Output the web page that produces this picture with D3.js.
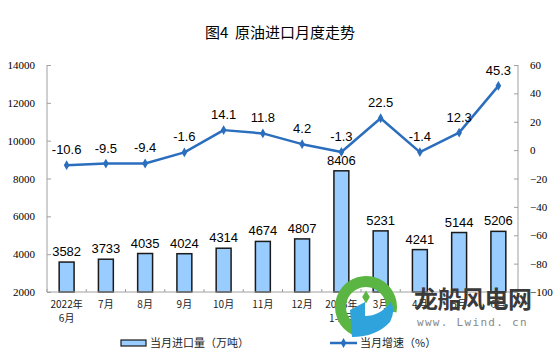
<!DOCTYPE html>
<html>
<head>
<meta charset="utf-8">
<script src="https://cdn.jsdelivr.net/npm/d3@7"></script>
<style>
	body { margin: 0; background: #fff; }
</style>
</head>
<body>
<div class="chart"></div>
<script>
var categories = ['2022年|6月', '7月', '8月', '9月', '10月', '11月', '12月', '2023年|1-2月', '3月', '4月', '5月', '6月'];
var imports = [3582, 3733, 4035, 4024, 4314, 4674, 4807, 8406, 5231, 4241, 5144, 5206];
var growth = [-10.6, -9.5, -9.4, -1.6, 14.1, 11.8, 4.2, -1.3, 22.5, -1.4, 12.3, 45.3];
var leftTicks = [2000, 4000, 6000, 8000, 10000, 12000, 14000];
var rightTicks = [-100, -80, -60, -40, -20, 0, 20, 40, 60];

var barFill = '#99ccff',
	barStroke = '#1a1a1a',
	lineColor = '#2a6ebd',
	axisColor = '#a0a0a0',
	textColor = '#000',
	cjk = '"Noto Sans CJK SC", sans-serif';

var W = 560, H = 361;
var plot = {left: 47, right: 518, top: 65, bottom: 292};

var svg = d3.select('.chart').append('svg')
	.attr('width', W)
	.attr('height', H)
	.attr('font-family', 'Liberation Sans, Arial, sans-serif');

var x = d3.scaleBand().domain(categories).range([plot.left, plot.right]).paddingInner(0.62).paddingOuter(0.31);
var yL = d3.scaleLinear().domain([2000, 14000]).range([plot.bottom, plot.top]);
var yR = d3.scaleLinear().domain([-100, 60]).range([plot.bottom, plot.top]);

// Title
svg.append('text')
	.attr('x', 280).attr('y', 38)
	.attr('text-anchor', 'middle')
	.attr('font-family', cjk)
	.attr('font-size', '15px')
	.attr('fill', textColor)
	.style('white-space', 'pre')
	.text('图4  原油进口月度走势');

// Bars
svg.selectAll('.bar').data(imports).enter().append('rect')
	.attr('class', 'bar')
	.attr('x', function(d, i) { return x(categories[i]); })
	.attr('y', function(d) { return yL(d); })
	.attr('width', x.bandwidth())
	.attr('height', function(d) { return yL(2000) - yL(d); })
	.attr('fill', barFill)
	.attr('stroke', barStroke)
	.attr('stroke-width', 1.5);

svg.selectAll('.bar-label').data(imports).enter().append('text')
	.attr('x', function(d, i) { return x(categories[i]) + x.bandwidth() / 2; })
	.attr('y', function(d) { return yL(d) - 6; })
	.attr('text-anchor', 'middle')
	.attr('font-size', '13px')
	.attr('fill', textColor)
	.text(function(d) { return d; });

// Axes
var axisL = svg.append('g')
	.attr('transform', 'translate(' + plot.left + ',0)')
	.call(d3.axisLeft(yL).tickValues(leftTicks).tickSize(-4).tickPadding(12).tickFormat(d3.format('d')));
var axisR = svg.append('g')
	.attr('transform', 'translate(' + plot.right + ',0)')
	.call(d3.axisRight(yR).tickValues(rightTicks).tickSize(-4).tickPadding(12));
var bottomTicks = d3.range(categories.length + 1).map(function(i) {
	return plot.left + i * (plot.right - plot.left) / categories.length;
});
svg.append('line')
	.attr('x1', plot.left).attr('x2', plot.right)
	.attr('y1', plot.bottom).attr('y2', plot.bottom)
	.attr('stroke', axisColor);
svg.selectAll('.xtick').data(bottomTicks).enter().append('line')
	.attr('x1', function(d) { return d; }).attr('x2', function(d) { return d; })
	.attr('y1', plot.bottom).attr('y2', plot.bottom - 3)
	.attr('stroke', axisColor);

[axisL, axisR].forEach(function(a) {
	a.select('.domain').attr('stroke', axisColor).attr('d', function() {
		return 'M0,' + plot.top + 'V' + plot.bottom;
	});
	a.selectAll('.tick line').attr('stroke', axisColor);
	a.selectAll('.tick text')
		.attr('font-family', 'Liberation Serif, Times New Roman, serif')
		.attr('font-size', '11px')
		.attr('fill', textColor);
});
axisL.selectAll('.tick text').attr('x', -12);

// Category labels
var xLabels = svg.selectAll('.xlabel').data(categories).enter().append('text')
	.attr('x', function(d) { return x(d) + x.bandwidth() / 2; })
	.attr('y', 308)
	.attr('text-anchor', 'middle')
	.attr('font-family', cjk)
	.attr('font-size', '10px')
	.attr('fill', '#222');
xLabels.each(function(d) {
	var parts = d.split('|');
	var t = d3.select(this);
	parts.forEach(function(p, j) {
		t.append('tspan')
			.attr('x', t.attr('x'))
			.attr('dy', j === 0 ? 0 : 14)
			.text(p);
	});
});

// Growth line
var line = d3.line()
	.x(function(d, i) { return x(categories[i]) + x.bandwidth() / 2; })
	.y(function(d) { return yR(d); });
svg.append('path')
	.datum(growth)
	.attr('fill', 'none')
	.attr('stroke', lineColor)
	.attr('stroke-width', 2.5)
	.attr('stroke-linejoin', 'round')
	.attr('d', line);
svg.selectAll('.marker').data(growth).enter().append('path')
	.attr('transform', function(d, i) {
		return 'translate(' + (x(categories[i]) + x.bandwidth() / 2) + ',' + yR(d) + ')';
	})
	.attr('d', d3.symbol(d3.symbolDiamond, 28))
	.attr('fill', lineColor);
svg.selectAll('.line-label').data(growth).enter().append('text')
	.attr('x', function(d, i) { return x(categories[i]) + x.bandwidth() / 2; })
	.attr('y', function(d) { return yR(d) - 11; })
	.attr('text-anchor', 'middle')
	.attr('font-size', '13px')
	.attr('fill', textColor)
	.text(function(d) { return d; });

// Legend
var legend = svg.append('g').attr('font-family', cjk).attr('font-size', '11px').attr('fill', '#222');
legend.append('rect')
	.attr('x', 121).attr('y', 340).attr('width', 25).attr('height', 6)
	.attr('fill', barFill).attr('stroke', barStroke).attr('stroke-width', 1.2);
legend.append('text').attr('x', 150).attr('y', 347).text('当月进口量（万吨）');
legend.append('line')
	.attr('x1', 330).attr('x2', 357).attr('y1', 343).attr('y2', 343)
	.attr('stroke', lineColor).attr('stroke-width', 2.5);
legend.append('path')
	.attr('transform', 'translate(343.5,343)')
	.attr('d', d3.symbol(d3.symbolDiamond, 28))
	.attr('fill', lineColor);
legend.append('text').attr('x', 360).attr('y', 347).text('当月增速（%）');

// Watermark (site logo over the lower right corner)
var wm = svg.append('g');
wm.append('path')
	.attr('transform', 'translate(366,307)')
	.attr('d', d3.arc().innerRadius(20).outerRadius(31).startAngle(-2.7).endAngle(1.75)())
	.attr('fill', '#5bb543');
wm.append('path')
	.attr('d', 'M350,310 L352,337 Q376,337 390,322 Q396,310 391,302 Q380,316 365,316 L365,302 Z')
	.attr('fill', '#2fa4dc');
wm.append('path')
	.attr('transform', 'translate(366,297)')
	.attr('d', d3.symbol(d3.symbolDiamond, 50))
	.attr('fill', '#5bb543');
wm.append('text')
	.attr('x', 414).attr('y', 308)
	.attr('font-family', cjk).attr('font-weight', 'bold').attr('font-size', '24px')
	.attr('letter-spacing', '-0.5px')
	.attr('fill', '#3a3a3a')
	.text('龙船风电网');
wm.append('text')
	.attr('x', 417).attr('y', 326)
	.attr('font-family', 'DejaVu Sans Mono, monospace').attr('font-size', '11px')
	.attr('letter-spacing', '1.3px')
	.attr('fill', '#8a8a8a')
	.text('www. Lwind. cn');
</script>
</body>
</html>
